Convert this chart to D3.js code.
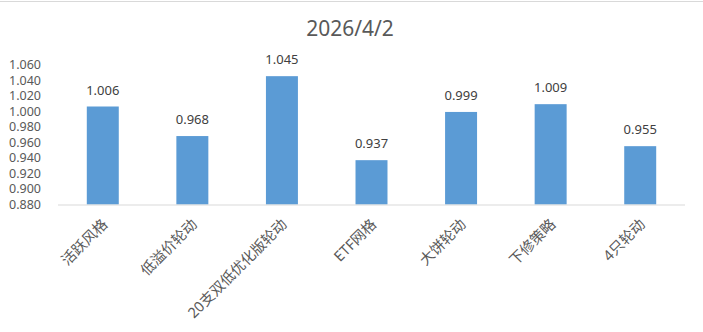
<!DOCTYPE html>
<html><head><meta charset="utf-8">
<script src="https://cdn.jsdelivr.net/npm/d3@7"></script>
<style>body{margin:0;background:#fff;} svg{display:block;}</style>
</head><body>
<svg id="c" width="703" height="332"></svg>
<script>
const title = "2026/4/2";
const categories = ["活跃风格","低溢价轮动","20支双低优化版轮动","ETF网格","大饼轮动","下修策略","4只轮动"];
const values = [1.006, 0.968, 1.045, 0.937, 0.999, 1.009, 0.955];
const yTicks = [0.880,0.900,0.920,0.940,0.960,0.980,1.000,1.020,1.040,1.060];

const W = 703, H = 332;
const m = {left:58, right:18, top:64.5, bottom:127.5};
const svg = d3.select("#c");
const font = "'Noto Sans','Noto Sans CJK SC',sans-serif";

// faint sheet border at top
svg.append("line").attr("x1",0).attr("x2",W).attr("y1",1.5).attr("y2",1.5)
  .attr("stroke","#d9d9d9").attr("stroke-width",1);

const x = d3.scaleBand().domain(categories).range([m.left, W - m.right]).paddingInner(0.643).paddingOuter(0.3215);
const y = d3.scaleLinear().domain([0.88, 1.06]).range([H - m.bottom, m.top]);

svg.append("text").attr("x", 350).attr("y", 36).attr("text-anchor","middle")
  .attr("font-family", font).attr("font-size", 21).attr("fill","#595959").text(title);

// y axis labels
const ya = svg.append("g").attr("transform",`translate(${m.left},0)`)
  .call(d3.axisLeft(y).tickValues(yTicks).tickFormat(d3.format(".3f")).tickSize(0).tickPadding(17));
ya.select(".domain").remove();
ya.selectAll("text").attr("font-family", font).attr("font-size", 12.5).attr("fill","#595959");

// bars
svg.append("g").selectAll("rect").data(values).join("rect")
  .attr("x",(d,i)=>x(categories[i])).attr("width", x.bandwidth())
  .attr("y", d=>y(d)).attr("height", d=>y(0.88)-y(d)).attr("fill","#5b9bd5");

// value labels
svg.append("g").selectAll("text").data(values).join("text")
  .attr("x",(d,i)=>x(categories[i]) + x.bandwidth()/2).attr("y", d=>y(d)-12)
  .attr("text-anchor","middle").attr("font-family", font).attr("font-size", 13).attr("fill","#404040")
  .text(d=>d3.format(".3f")(d));

// x axis
const xa = svg.append("g").attr("transform",`translate(0,${y(0.88)})`)
  .call(d3.axisBottom(x).tickSize(0).tickPadding(0));
xa.select(".domain").attr("stroke","#d9d9d9").attr("d",`M${m.left},0.5H${W-m.right}`);
xa.selectAll("text").attr("font-family", font).attr("font-size", 14.5).attr("fill","#595959")
  .attr("text-anchor","end").attr("dy",null).attr("y",null)
  .attr("transform","translate(3,18) rotate(-45)").attr("dominant-baseline","middle");
</script>
</body></html>
